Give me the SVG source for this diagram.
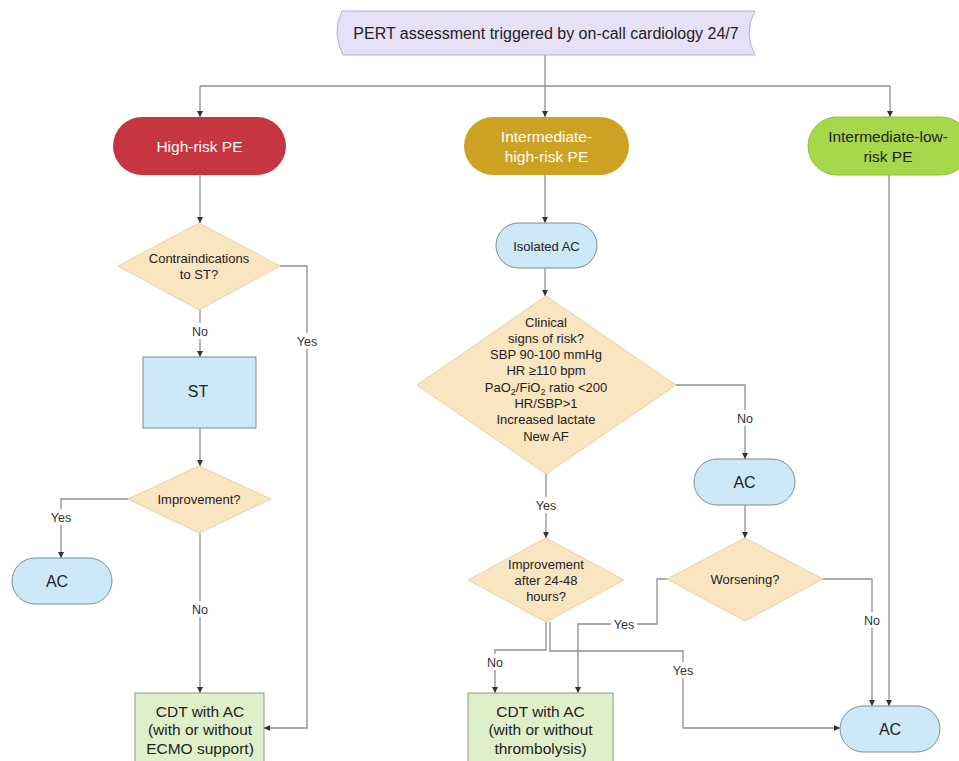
<svg xmlns="http://www.w3.org/2000/svg" width="959" height="761" viewBox="0 0 959 761">
<style>
text{font-family:"Liberation Sans",Arial,sans-serif;fill:#222;text-anchor:middle}
.t16{font-size:16px}.t15{font-size:15.5px}.t13{font-size:13px}.lbl{font-size:12.5px;fill:#333}
.w{fill:#fff}
.con{fill:none;stroke:#8f8f8f;stroke-width:1.3}
.dia{fill:#fae5c1;stroke:#e9cf9f;stroke-width:1}
.blue{fill:#cde8f6;stroke:#7e8c94;stroke-width:1}
.grn{fill:#dff0c9;stroke:#8f9a86;stroke-width:1}
</style>
<defs>
<marker id="ah" viewBox="0 0 10 10" refX="10" refY="5" markerWidth="6" markerHeight="6" markerUnits="userSpaceOnUse" orient="auto">
<path d="M0,0 L10,5 L0,10 z" fill="#333"/>
</marker>
</defs>
<rect width="959" height="761" fill="#fff"/>
<g id="connectors">
<path class="con" d="M545,55 V86"/>
<path class="con" d="M200,86 H890"/>
<path class="con" d="M200,86 V117" marker-end="url(#ah)"/>
<path class="con" d="M545,86 V117" marker-end="url(#ah)"/>
<path class="con" d="M890,86 V117" marker-end="url(#ah)"/>
<path class="con" d="M200,175 V223" marker-end="url(#ah)"/>
<path class="con" d="M280,266 H307 V728 H264" marker-end="url(#ah)"/>
<path class="con" d="M200,310 V357" marker-end="url(#ah)"/>
<path class="con" d="M200,428 V466" marker-end="url(#ah)"/>
<path class="con" d="M128,499 H61 V558" marker-end="url(#ah)"/>
<path class="con" d="M200,533 V693" marker-end="url(#ah)"/>
<path class="con" d="M545,175 V223" marker-end="url(#ah)"/>
<path class="con" d="M545,268 V296" marker-end="url(#ah)"/>
<path class="con" d="M676,385 H745 V459" marker-end="url(#ah)"/>
<path class="con" d="M745,505 V538" marker-end="url(#ah)"/>
<path class="con" d="M823,579 H872 V706" marker-end="url(#ah)"/>
<path class="con" d="M667,579 H657 V624 H578 V693" marker-end="url(#ah)"/>
<path class="con" d="M546,474 V538" marker-end="url(#ah)"/>
<path class="con" d="M546,622 V650 H495 V693" marker-end="url(#ah)"/>
<path class="con" d="M550,622 V651 H683 V728 H840" marker-end="url(#ah)"/>
<path class="con" d="M889,175 V706" marker-end="url(#ah)"/>
<rect x="188" y="323" width="24" height="16" fill="#fff"/>
<text class="lbl" x="200" y="336">No</text>
<rect x="294" y="333" width="26" height="16" fill="#fff"/>
<text class="lbl" x="307" y="346">Yes</text>
<rect x="48" y="509" width="26" height="16" fill="#fff"/>
<text class="lbl" x="61" y="522">Yes</text>
<rect x="188" y="601" width="24" height="16" fill="#fff"/>
<text class="lbl" x="200" y="614">No</text>
<rect x="733" y="410" width="24" height="16" fill="#fff"/>
<text class="lbl" x="745" y="423">No</text>
<rect x="533" y="497" width="26" height="16" fill="#fff"/>
<text class="lbl" x="546" y="510">Yes</text>
<rect x="611" y="616" width="26" height="16" fill="#fff"/>
<text class="lbl" x="624" y="629">Yes</text>
<rect x="860" y="612" width="24" height="16" fill="#fff"/>
<text class="lbl" x="872" y="625">No</text>
<rect x="483" y="654" width="24" height="16" fill="#fff"/>
<text class="lbl" x="495" y="667">No</text>
<rect x="670" y="662" width="26" height="16" fill="#fff"/>
<text class="lbl" x="683" y="675">Yes</text>
</g>
<g id="start">
<path d="M342,11 L755,11 Q743,33 755,55 L343,55 Q331.5,33 342,11 Z" fill="#e7e1f8" stroke="#b9a5ef" stroke-width="1"/>
<text class="t16" x="546" y="38.5">PERT assessment triggered by on-call cardiology 24/7</text>
</g>
<g id="high-risk">
<rect x="113" y="117" width="173" height="58" rx="29" fill="#c73540"/>
<text class="t15 w" x="199.5" y="151.5">High-risk PE</text>
</g>
<g id="int-high-risk">
<rect x="464" y="117" width="165" height="58" rx="29" fill="#cda122"/>
<text class="t15 w" x="546.5" y="142">Intermediate-</text>
<text class="t15 w" x="546.5" y="162">high-risk PE</text>
</g>
<g id="int-low-risk">
<rect x="808" y="117" width="162" height="58" rx="29" fill="#a7d84b" stroke="#8fbf3a" stroke-width="1"/>
<text class="t15" x="888" y="142">Intermediate-low-</text>
<text class="t15" x="888" y="162">risk PE</text>
</g>
<g id="contraindications">
<polygon class="dia" points="199,223 280,266 199,310 118,266"/>
<text class="t13" x="199" y="262.5">Contraindications</text>
<text class="t13" x="199" y="278.5">to ST?</text>
</g>
<g id="st">
<rect class="blue" x="143" y="357" width="113" height="71"/>
<text class="t16" x="198" y="397">ST</text>
</g>
<g id="improvement">
<polygon class="dia" points="199,466 271,499 199,533 128,499"/>
<text class="t13" x="199" y="503.5">Improvement?</text>
</g>
<g id="ac-left">
<rect class="blue" x="12" y="558" width="100" height="46" rx="23"/>
<text class="t16" x="57" y="587">AC</text>
</g>
<g id="cdt-ecmo">
<rect class="grn" x="135" y="693" width="129" height="75"/>
<text class="t15" x="200" y="716.5">CDT with AC</text>
<text class="t15" x="200" y="735">(with or without</text>
<text class="t15" x="200" y="753.5">ECMO support)</text>
</g>
<g id="isolated-ac">
<rect class="blue" x="496" y="223" width="101" height="45" rx="22.5"/>
<text class="t13" x="546.5" y="250.5">Isolated AC</text>
</g>
<g id="clinical-signs">
<polygon class="dia" points="546,296 676,385 546,474 417,385"/>
<text class="t13" x="546" y="326.5">Clinical</text>
<text class="t13" x="546" y="342.8">signs of risk?</text>
<text class="t13" x="546" y="359.1">SBP 90-100 mmHg</text>
<text class="t13" x="546" y="375.4">HR ≥110 bpm</text>
<text class="t13" x="546" y="391.7">PaO<tspan font-size="9" dy="3">2</tspan><tspan dy="-3">/FiO</tspan><tspan font-size="9" dy="3">2</tspan><tspan dy="-3"> ratio &lt;200</tspan></text>
<text class="t13" x="546" y="408">HR/SBP&gt;1</text>
<text class="t13" x="546" y="424.3">Increased lactate</text>
<text class="t13" x="546" y="440.6">New AF</text>
</g>
<g id="ac-mid">
<rect class="blue" x="694" y="459" width="101" height="46" rx="23"/>
<text class="t16" x="744.5" y="487.5">AC</text>
</g>
<g id="worsening">
<polygon class="dia" points="745,538 823,579 745,621 667,579"/>
<text class="t13" x="745" y="583.5">Worsening?</text>
</g>
<g id="improvement-48h">
<polygon class="dia" points="546,538 624,580 546,622 468,580"/>
<text class="t13" x="546" y="568.5">Improvement</text>
<text class="t13" x="546" y="584.5">after 24-48</text>
<text class="t13" x="546" y="600.5">hours?</text>
</g>
<g id="cdt-thrombolysis">
<rect class="grn" x="468" y="693" width="145" height="75"/>
<text class="t15" x="540.5" y="716.5">CDT with AC</text>
<text class="t15" x="540.5" y="735">(with or without</text>
<text class="t15" x="540.5" y="753.5">thrombolysis)</text>
</g>
<g id="ac-final">
<rect class="blue" x="840" y="706" width="100" height="46" rx="23"/>
<text class="t16" x="890" y="734.5">AC</text>
</g>
</svg>
